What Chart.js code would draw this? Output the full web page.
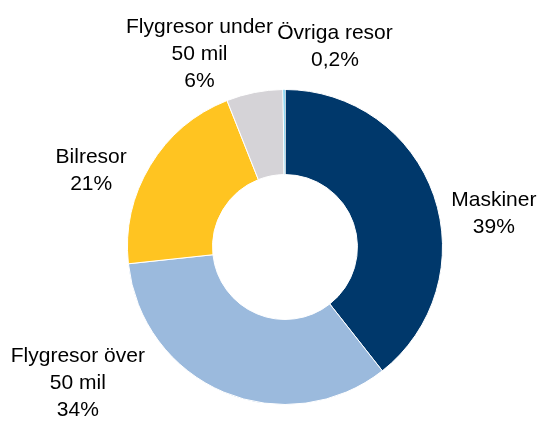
<!DOCTYPE html>
<html>
<head>
<meta charset="utf-8">
<script src="https://cdn.jsdelivr.net/npm/chart.js@4/dist/chart.umd.min.js"></script>
<style>
  html, body { margin: 0; padding: 0; background: #fff; }
  #wrap { width: 539px; height: 421px; }
</style>
</head>
<body>
<div id="wrap"><canvas id="pieChart" width="539" height="421"></canvas></div>
<script>
// chart data
const categories = ['Maskiner', 'Flygresor över 50 mil', 'Bilresor', 'Flygresor under 50 mil', 'Övriga resor'];
const shares = [39.4, 33.9, 20.7, 5.8, 0.2];
const shareLabels = ['39%', '34%', '21%', '6%', '0,2%'];
// how each label is broken into lines
const labelLines = [
    ['Maskiner'],
    ['Flygresor över', '50 mil'],
    ['Bilresor'],
    ['Flygresor under', '50 mil'],
    ['Övriga resor']
];
const sliceColors = ['#00386b', '#9bbadd', '#ffc421', '#d5d3d7', '#22b4e8'];

// label nudges relative to the outer edge of each slice (px)
const labelNudge = [[60, 18], [-146, -9], [-59, 5], [-55, -38], [51, -43]];

const outsideLabels = {
    id: 'outsideLabels',
    afterDatasetsDraw(chart) {
        const ctx = chart.ctx;
        const arcs = chart.getDatasetMeta(0).data;
        ctx.save();
        ctx.font = '21px "Liberation Sans", Arial, sans-serif';
        ctx.fillStyle = '#000';
        ctx.textAlign = 'center';
        ctx.textBaseline = 'middle';
        const lineH = 27;
        arcs.forEach((arc, i) => {
            const mid = (arc.startAngle + arc.endAngle) / 2;
            const x = arc.x + Math.cos(mid) * arc.outerRadius + labelNudge[i][0];
            const y = arc.y + Math.sin(mid) * arc.outerRadius + labelNudge[i][1];
            const lines = labelLines[i].concat([shareLabels[i]]);
            const top = y - (lines.length - 1) * lineH / 2;
            lines.forEach((t, j) => ctx.fillText(t, x, top + j * lineH));
        });
        ctx.restore();
    }
};

const ctx = document.getElementById('pieChart').getContext('2d');
new Chart(ctx, {
    type: 'doughnut',
    data: {
        labels: categories,
        datasets: [{
            data: shares,
            backgroundColor: sliceColors,
            borderColor: '#ffffff',
            borderWidth: 1
        }]
    },
    options: {
        responsive: false,
        animation: false,
        cutout: '46%',
        layout: {
            padding: { left: 127, right: 96, top: 89, bottom: 16 }
        },
        plugins: {
            legend: { display: false },
            tooltip: { enabled: false }
        }
    },
    plugins: [outsideLabels]
});
</script>
</body>
</html>
